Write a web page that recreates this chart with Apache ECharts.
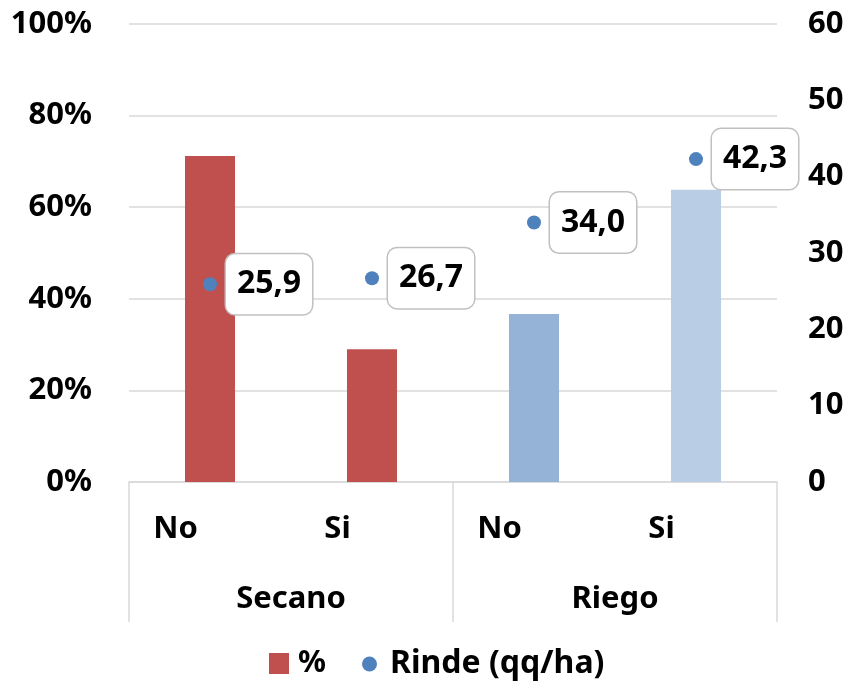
<!DOCTYPE html>
<html>
<head>
<meta charset="utf-8">
<script src="https://cdn.jsdelivr.net/npm/echarts@6/dist/echarts.min.js"></script>
<style>html,body{margin:0;padding:0;background:#fff;}#c{width:852px;height:686px;}</style>
</head>
<body>
<div id="c"></div>
<script>
const subCategories = ['No', 'Si', 'No', 'Si'];
const groupCategories = ['Secano', 'Riego'];
const percentValues = [71.2, 29.0, 36.7, 63.8];
const rindeValues = [25.9, 26.7, 34.0, 42.3];
const barColors = ['#C0504D', '#C0504D', '#95B3D7', '#B9CDE5'];
const leftTicks = [0, 20, 40, 60, 80, 100];
const rightTicks = [0, 10, 20, 30, 40, 50, 60];

const FONT = '"Noto Sans", sans-serif';
const chart = echarts.init(document.getElementById('c'));
const axisGray = '#d9d9d9';
const txt = { fontFamily: FONT, fontSize: 31, fontWeight: 'bold', color: '#000' };

chart.setOption({
  animation: false,
  textStyle: { fontFamily: FONT },
  grid: { left: 129, right: 75, top: 24, bottom: 204, containLabel: false },
  legend: [
    { data: ['%'], left: 269, top: 648, padding: 0, itemWidth: 20, itemHeight: 21, icon: 'rect',
      textStyle: Object.assign({}, txt, { fontSize: 31, padding: [0, 0, 0, 4] }) },
    { data: ['Rinde (qq/ha)'], left: 362, top: 648, padding: 0, itemWidth: 15, itemHeight: 15, icon: 'circle',
      textStyle: Object.assign({}, txt, { fontSize: 32, padding: [0, 0, 0, 8] }) }
  ],
  xAxis: [
    { type: 'category', data: subCategories, position: 'bottom',
      axisLine: { show: true, lineStyle: { color: axisGray, width: 1.5 } },
      axisTick: { show: false },
      axisLabel: Object.assign({ margin: 32, padding: [0, 69, 0, 0] }, txt) },
    { type: 'category', data: groupCategories, position: 'bottom',
      axisLine: { show: false },
      axisTick: { show: true, length: 140, lineStyle: { color: axisGray, width: 1.5 } },
      axisLabel: Object.assign({ margin: 102 }, txt) }
  ],
  yAxis: [
    { type: 'value', min: leftTicks[0], max: leftTicks[leftTicks.length - 1], interval: 20,
      axisLine: { show: false }, axisTick: { show: false },
      splitLine: { lineStyle: { color: axisGray, width: 1.5 } },
      axisLabel: Object.assign({ margin: 37, formatter: v => v + '%' }, txt) },
    { type: 'value', min: rightTicks[0], max: rightTicks[rightTicks.length - 1], interval: 10,
      position: 'right',
      axisLine: { show: false }, axisTick: { show: false }, splitLine: { show: false },
      axisLabel: Object.assign({ margin: 31 }, txt) }
  ],
  series: [
    { name: '%', type: 'bar', xAxisIndex: 0, yAxisIndex: 0, barWidth: 50,
      itemStyle: { color: barColors[0] },
      data: percentValues.map((v, i) => ({ value: v, itemStyle: { color: barColors[i] } })) },
    { name: 'Rinde (qq/ha)', type: 'scatter', xAxisIndex: 0, yAxisIndex: 1, symbolSize: 14,
      itemStyle: { color: '#4F81BD', opacity: 1 },
      label: { show: true, position: 'right', distance: 9,
        formatter: p => p.value.toFixed(1).replace('.', ','),
        fontFamily: FONT, fontSize: 32, fontWeight: 'bold', color: '#000',
        backgroundColor: '#fff', borderColor: '#c0c0c0', borderWidth: 1.5, borderRadius: 9,
        padding: [12, 11, 12, 11], lineHeight: 36 },
      data: rindeValues }
  ]
});
</script>
</body>
</html>
